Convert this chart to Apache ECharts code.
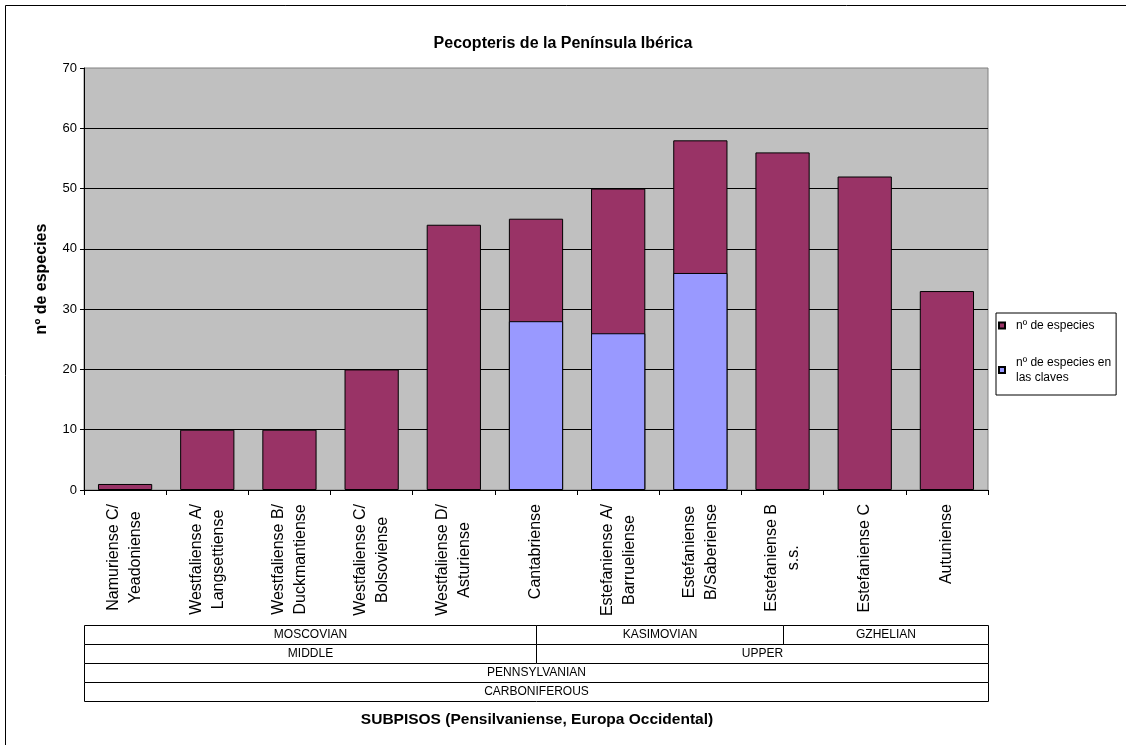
<!DOCTYPE html>
<html>
<head>
<meta charset="utf-8">
<style>
  html, body { margin: 0; padding: 0; background: #fff; }
  #chart { width: 1126px; height: 745px; }
</style>
<script src="https://cdn.jsdelivr.net/npm/echarts@6/dist/echarts.min.js"></script>
</head>
<body>
<div id="chart"></div>
<script>
  const categories = [
    'Namuriense C/\nYeadoniense',
    'Westfaliense A/\nLangsettiense',
    'Westfaliense B/\nDuckmantiense',
    'Westfaliense C/\nBolsoviense',
    'Westfaliense D/\nAsturiense',
    'Cantabriense',
    'Estefaniense A/\nBarrueliense',
    'Estefaniense\nB/Saberiense',
    'Estefaniense B\ns.s.',
    'Estefaniense C',
    'Autuniense'
  ];
  const especies = [1, 10, 10, 20, 44, 45, 50, 58, 56, 52, 33];
  const especiesClaves = ['-', '-', '-', '-', '-', 28, 26, 36, '-', '-', '-'];
  const yTicks = [0, 10, 20, 30, 40, 50, 60, 70];

  // tabla de edades bajo el eje (inicio, fin en unidades de categoría, fila)
  const tableLabels = ['MOSCOVIAN', 'KASIMOVIAN', 'GZHELIAN', 'MIDDLE', 'UPPER', 'PENNSYLVANIAN', 'CARBONIFEROUS'];
  const tableStart = [0, 5.5, 8.5, 0, 5.5, 0, 0];
  const tableEnd = [5.5, 8.5, 11, 5.5, 11, 11, 11];
  const tableRow = [0, 0, 0, 1, 1, 2, 3];

  const FONT = '"Liberation Sans", Arial, sans-serif';
  const chart = echarts.init(document.getElementById('chart'));

  const tableData = tableLabels.map((name, i) => ({
    name: name,
    value: [tableStart[i], tableEnd[i], tableRow[i]]
  }));

  function renderCell(params, api) {
    const p0 = api.coord([api.value(0), api.value(2)]);
    const p1 = api.coord([api.value(1), api.value(2) + 1]);
    const x0 = Math.round(p0[0]) + 0.5;
    const y0 = Math.round(p0[1]) + 0.5;
    const x1 = Math.round(p1[0]) + 0.5;
    const y1 = Math.round(p1[1]) + 0.5;
    return {
      type: 'group',
      children: [
        {
          type: 'rect',
          shape: { x: x0, y: y0, width: x1 - x0, height: y1 - y0 },
          style: { fill: '#fff', stroke: '#000', lineWidth: 1 }
        },
        {
          type: 'text',
          x: (x0 + x1) / 2,
          y: (y0 + y1) / 2,
          style: {
            text: tableLabels[params.dataIndex],
            align: 'center',
            verticalAlign: 'middle',
            fontSize: 12,
            fontFamily: FONT,
            fill: '#000'
          }
        }
      ]
    };
  }

  chart.setOption({
    animation: false,
    backgroundColor: '#fff',
    textStyle: { fontFamily: FONT, color: '#000' },
    title: {
      text: 'Pecopteris de la Península Ibérica',
      left: 'center',
      top: 31,
      textStyle: { fontSize: 16, fontWeight: 'bold', color: '#000', fontFamily: FONT }
    },
    legend: {
      orient: 'vertical',
      left: 996,
      top: 313,
      padding: [5, 5, 10, 2],
      itemGap: 22,
      itemWidth: 6,
      itemHeight: 6,
      borderColor: '#000',
      borderWidth: 1,
      icon: 'rect',
      textStyle: { fontSize: 12, color: '#000', fontFamily: FONT, lineHeight: 15, padding: [0, 0, 0, 6] },
      formatter: (name) => name === 'nº de especies en las claves' ? 'nº de especies en\nlas claves' : name,
      data: ['nº de especies', 'nº de especies en las claves']
    },
    graphic: [
      {
        type: 'rect',
        silent: true,
        shape: { x: 5.5, y: 5.5, width: 1140, height: 760 },
        style: { fill: null, stroke: '#000', lineWidth: 1 }
      },
      {
        type: 'text',
        x: 537,
        y: 720,
        style: {
          text: 'SUBPISOS (Pensilvaniense, Europa Occidental)',
          align: 'center',
          verticalAlign: 'middle',
          fontSize: 15.5,
          fontWeight: 'bold',
          fontFamily: FONT,
          fill: '#000'
        }
      }
    ],
    grid: [
      {
        left: 84, right: 138, top: 68, bottom: 255,
        show: true,
        backgroundColor: '#c0c0c0',
        borderColor: '#808080',
        borderWidth: 1
      },
      { left: 84, right: 138, top: 625, height: 76 }
    ],
    xAxis: [
      {
        type: 'category',
        gridIndex: 0,
        data: categories,
        axisLine: { lineStyle: { color: '#000', width: 1 } },
        axisTick: { show: true, length: 5, alignWithLabel: false, lineStyle: { color: '#000' } },
        axisLabel: {
          interval: 0,
          rotate: 90,
          margin: 14,
          formatter: (v) => v.split('\n').map((s) => '{c|' + s + '}').join('\n'),
          rich: {
            c: { align: 'center', fontSize: 16, lineHeight: 22, fontFamily: FONT, color: '#000' }
          }
        },
        splitLine: { show: false }
      },
      { type: 'value', gridIndex: 1, min: 0, max: 11, show: false }
    ],
    yAxis: [
      {
        type: 'value',
        gridIndex: 0,
        min: 0,
        max: yTicks[yTicks.length - 1],
        interval: yTicks[1] - yTicks[0],
        name: 'nº de especies',
        nameLocation: 'middle',
        nameGap: 34,
        nameTextStyle: { fontSize: 16, fontWeight: 'bold', color: '#000', fontFamily: FONT },
        axisLine: { show: true, lineStyle: { color: '#000', width: 1 } },
        axisTick: { show: true, length: 4, lineStyle: { color: '#000' } },
        axisLabel: { fontSize: 13, color: '#000', margin: 7, fontFamily: FONT },
        splitLine: { show: true, showMaxLine: false, lineStyle: { color: '#000', width: 1 } }
      },
      { type: 'value', gridIndex: 1, min: 0, max: 4, inverse: true, show: false }
    ],
    series: [
      {
        name: 'nº de especies',
        type: 'bar',
        xAxisIndex: 0,
        yAxisIndex: 0,
        data: especies,
        barCategoryGap: '34%',
        barGap: '-100%',
        itemStyle: { color: '#993366', borderColor: '#000', borderWidth: 1 }
      },
      {
        name: 'nº de especies en las claves',
        type: 'bar',
        xAxisIndex: 0,
        yAxisIndex: 0,
        data: especiesClaves,
        barCategoryGap: '34%',
        barGap: '-100%',
        itemStyle: { color: '#9999ff', borderColor: '#000', borderWidth: 1 }
      },
      {
        type: 'custom',
        xAxisIndex: 1,
        yAxisIndex: 1,
        data: tableData,
        renderItem: renderCell,
        silent: true
      }
    ]
  });

  window.addEventListener('resize', () => chart.resize());
</script>
</body>
</html>
